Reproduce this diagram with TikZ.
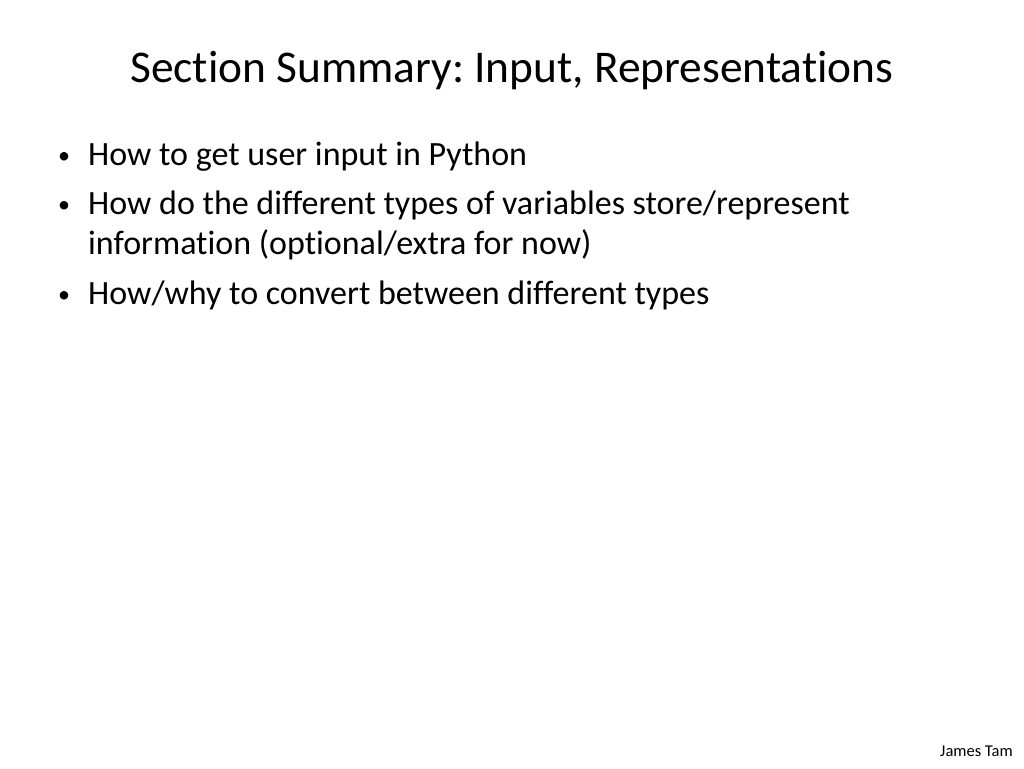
\documentclass[tikz,border=0pt]{standalone}
\usepackage{fontspec}
\setmainfont{Carlito}[Ligatures={NoCommon}]
\usepackage{xcolor}
\usepackage{tikz}
\usetikzlibrary{positioning}
\definecolor{slideText}{RGB}{0,0,0}
\frenchspacing
\tikzset{
    itemline/.style={anchor=base west, inner sep=0pt, font=\fontsize{34}{40}\selectfont\color{slideText}},
    itemdot/.style={anchor=base west, inner sep=0pt, font=\fontsize{24}{28}\selectfont\color{slideText}}
}

\begin{document}
\begin{tikzpicture}[x=1pt, y=-1pt,
        titletext/.style={anchor=base west, inner sep=0pt, font=\fontsize{45.4}{54}\selectfont\color{slideText}},
        footer/.style={anchor=base east, inner sep=0pt, font=\fontsize{16.5}{19}\selectfont\color{slideText}}
    ]
    \useasboundingbox[fill=white] (0,0) rectangle (1024,768);
    % --- Tiêu đề ---
    \node[titletext] (title) at (130, 82) {Section Summary: Input, Representations};
    % --- Các mục ---
    \node[itemdot] (dotA) at (58, 163) {•};
    \node[itemline] (itemA) at (88, 165) {How to get user input in Python};
    \node[itemdot] (dotB) at (58, 212) {•};
    \node[itemline] (itemB) at (88, 214) {How do the different types of variables store/represent};
    \node[itemline] (itemBb) at (88, 254) {information (optional/extra for now)};
    \node[itemdot] (dotC) at (58, 302) {•};
    \node[itemline] (itemC) at (88, 304) {How/why to convert between different types};
    % --- Chân trang ---
    \node[footer] (author) at (1013, 756) {James Tam};
\end{tikzpicture}
\end{document}
